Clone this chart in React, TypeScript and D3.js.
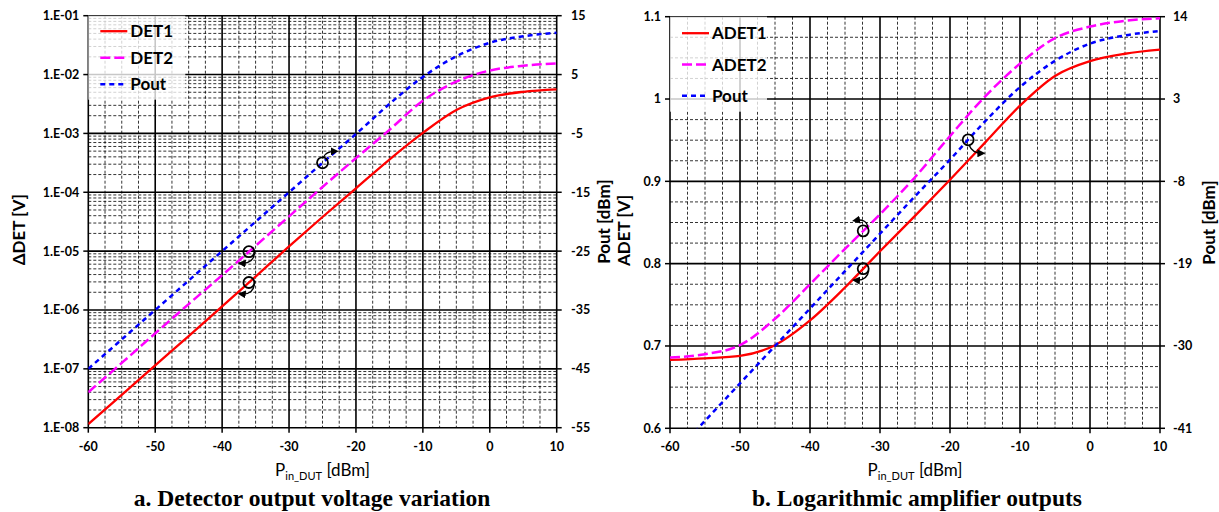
import React from 'react';
import * as d3 from 'd3';

// ---------- data ----------
const PIN = [-60, -55, -50, -45, -40, -35, -30, -25, -20, -15, -10, -5, 0, 5, 10];
const DET1 = [1.15e-8, 3.6e-8, 1.15e-7, 3.6e-7, 1.15e-6, 3.7e-6, 1.2e-5, 3.8e-5, 1.17e-4, 3.6e-4, 1.02e-3, 2.5e-3, 4.1e-3, 5.1e-3, 5.6e-3];
const DET2 = [4.0e-8, 1.26e-7, 4.0e-7, 1.26e-6, 3.9e-6, 1.23e-5, 3.9e-5, 1.23e-4, 3.8e-4, 1.15e-3, 3.6e-3, 7.6e-3, 1.17e-2, 1.41e-2, 1.55e-2];
const POUT = [-45, -40, -35, -30, -25, -20, -15, -10, -5.1, 0, 4.6, 8.1, 10.4, 11.5, 12.1];
const ADET1 = [0.683, 0.685, 0.688, 0.701, 0.731, 0.771, 0.815, 0.858, 0.902, 0.947, 0.992, 1.028, 1.046, 1.055, 1.06];
const ADET2 = [0.686, 0.69, 0.701, 0.733, 0.775, 0.818, 0.86, 0.905, 0.955, 1.003, 1.043, 1.074, 1.088, 1.095, 1.098];

const X_TICKS = [-60, -50, -40, -30, -20, -10, 0, 10];
const A_Y_TICKS = [1e-8, 1e-7, 1e-6, 1e-5, 1e-4, 1e-3, 1e-2, 1e-1];
const A_Y_LABELS = ['1.E-08', '1.E-07', '1.E-06', '1.E-05', '1.E-04', '1.E-03', '1.E-02', '1.E-01'];
const A_Y2_TICKS = [-55, -45, -35, -25, -15, -5, 5, 15];
const B_Y_TICKS = [0.6, 0.7, 0.8, 0.9, 1.0, 1.1];
const B_Y_LABELS = ['0.6', '0.7', '0.8', '0.9', '1', '1.1'];
const B_Y2_TICKS = [-41, -30, -19, -8, 3, 14];

const FONT = "Lato, 'Open Sans', 'DejaVu Sans', sans-serif";
const SERIF = "'Liberation Serif', 'Times New Roman', serif";
const RED = '#ff0000';
const MAG = '#ff00ff';
const BLUE = '#0000ff';

type Ser = { name: string; values: number[]; color: string; dash: string; width: number; axis: 'y' | 'y2' };
type Ann = { series: number; pin: number; kind: 'upRight' | 'downLeft' | 'upLeft' | 'downRight' };

function arrowPath(cx: number, cy: number, r: number, kind: string) {
  switch (kind) {
    case 'upRight':
      return `M${cx + 1},${cy - r} Q${cx + 3},${cy - r - 6} ${cx + 13},${cy - r - 6}`;
    case 'downLeft':
      return `M${cx + r},${cy + 2} Q${cx + 4},${cy + r + 7} ${cx - 8},${cy + r + 6}`;
    case 'upLeft':
      return `M${cx + r - 1},${cy - 3} Q${cx + 4},${cy - r - 7} ${cx - 8},${cy - r - 5}`;
    default:
      return `M${cx + 1},${cy + r} Q${cx + 4},${cy + r + 8} ${cx + 14},${cy + r + 8}`;
  }
}

function Panel(p: {
  id: string;
  left: number; right: number; top: number; bottom: number;
  y: any; y2: any;
  yTicks: number[]; yLabels: string[]; yMinor: number[];
  y2Ticks: number[];
  series: Ser[];
  legend: { w: number; h: number; rowH: number; first: number };
  anns: Ann[];
  yTitle: string; y2Title: string; yTitleX: number; y2TitleX: number; y2LabelX: number;
  caption: string; captionX: number;
}) {
  const x = d3.scaleLinear().domain([-60, 10]).range([p.left, p.right]);
  const minorX = d3.range(-60, 10.01, 2.5).filter((v) => Math.abs(v % 10) > 0.01);
  const line = (s: Ser) => {
    const sc = s.axis === 'y' ? p.y : p.y2;
    return d3
      .line<number>()
      .x((_, i) => x(PIN[i]))
      .y((v) => sc(v))
      .curve(d3.curveMonotoneX)(s.values) as string;
  };
  const posOn = (a: Ann) => {
    const s = p.series[a.series];
    const sc = s.axis === 'y' ? p.y : p.y2;
    const i = Math.min(PIN.length - 2, Math.max(0, d3.bisectRight(PIN, a.pin) - 1));
    const t = (a.pin - PIN[i]) / (PIN[i + 1] - PIN[i]);
    const y0 = sc(s.values[i]);
    const y1 = sc(s.values[i + 1]);
    return [x(a.pin), y0 + (y1 - y0) * t];
  };
  const cx = (p.left + p.right) / 2;
  const cy = (p.top + p.bottom) / 2;
  return (
    <g>
      <defs>
        <clipPath id={`clip-${p.id}`}>
          <rect x={p.left} y={p.top} width={p.right - p.left} height={p.bottom - p.top} />
        </clipPath>
        <marker id={`arr-${p.id}`} viewBox="0 0 10 10" refX="6" refY="5" markerWidth="8" markerHeight="8" markerUnits="userSpaceOnUse" orient="auto">
          <path d="M0,0 L10,5 L0,10 z" fill="#000" />
        </marker>
      </defs>
      {/* minor grid */}
      {minorX.map((v) => (
        <line key={'mx' + v} x1={x(v)} x2={x(v)} y1={p.top} y2={p.bottom} stroke="#000" strokeWidth={0.8} strokeDasharray="3,2" />
      ))}
      {p.yMinor.map((v, i) => (
        <line key={'my' + i} x1={p.left} x2={p.right} y1={p.y(v)} y2={p.y(v)} stroke="#000" strokeWidth={0.8} strokeDasharray="3,2" />
      ))}
      {/* major grid */}
      {X_TICKS.map((v) => (
        <line key={'Mx' + v} x1={x(v)} x2={x(v)} y1={p.top} y2={p.bottom} stroke="#000" strokeWidth={1.6} />
      ))}
      {p.yTicks.map((v) => (
        <line key={'My' + v} x1={p.left} x2={p.right} y1={p.y(v)} y2={p.y(v)} stroke="#000" strokeWidth={1.6} />
      ))}
      {/* tick marks */}
      {X_TICKS.map((v) => (
        <line key={'tx' + v} x1={x(v)} x2={x(v)} y1={p.bottom} y2={p.bottom + 5} stroke="#000" strokeWidth={1.5} />
      ))}
      {p.yTicks.map((v) => (
        <line key={'ty' + v} x1={p.left - 5} x2={p.left} y1={p.y(v)} y2={p.y(v)} stroke="#000" strokeWidth={1.5} />
      ))}
      {p.y2Ticks.map((v) => (
        <line key={'ty2' + v} x1={p.right} x2={p.right + 5} y1={p.y2(v)} y2={p.y2(v)} stroke="#000" strokeWidth={1.5} />
      ))}
      {/* legend box */}
      <rect x={p.left} y={p.top} width={p.legend.w} height={p.legend.h} fill="#fff" fillOpacity={0.78} />
      {/* series */}
      <g clipPath={`url(#clip-${p.id})`}>
        {p.series.map((s) => (
          <path key={s.name} d={line(s)} fill="none" stroke={s.color} strokeWidth={s.width} strokeDasharray={s.dash} />
        ))}
      </g>
      {/* annotations */}
      {p.anns.map((a, i) => {
        const [ax, ay] = posOn(a);
        return (
          <g key={'an' + i}>
            <circle cx={ax} cy={ay} r={5.5} fill="none" stroke="#000" strokeWidth={1.8} />
            <path d={arrowPath(ax, ay, 5.5, a.kind)} fill="none" stroke="#000" strokeWidth={1.4} markerEnd={`url(#arr-${p.id})`} />
          </g>
        );
      })}
      {/* legend entries */}
      {p.series.map((s, i) => {
        const ly = p.top + p.legend.first + i * p.legend.rowH;
        return (
          <g key={'lg' + s.name}>
            <line x1={p.left + 12} x2={p.left + 39} y1={ly} y2={ly} stroke={s.color} strokeWidth={s.width} strokeDasharray={s.dash} />
            <text x={p.left + 42} y={ly} dy="0.36em" fontFamily={FONT} fontWeight={700} fontSize={17}>{s.name}</text>
          </g>
        );
      })}
      {/* tick labels */}
      {X_TICKS.map((v) => (
        <text key={'lx' + v} x={x(v)} y={p.bottom + 23} textAnchor="middle" fontFamily={FONT} fontWeight={700} fontSize={12.5}>{v}</text>
      ))}
      {p.yTicks.map((v, i) => (
        <text key={'ly' + v} x={p.left - 9} y={p.y(v)} dy="0.35em" textAnchor="end" fontFamily={FONT} fontWeight={700} fontSize={12.5}>{p.yLabels[i]}</text>
      ))}
      {p.y2Ticks.map((v) => (
        <text key={'ly2' + v} x={p.y2LabelX} y={p.y2(v)} dy="0.35em" textAnchor="start" fontFamily={FONT} fontWeight={700} fontSize={12.5}>{v}</text>
      ))}
      {/* titles */}
      <text x={cx} y={p.bottom + 48} textAnchor="middle" fontFamily={FONT} fontSize={17}>
        P<tspan fontSize={11} dy="4">in_DUT</tspan><tspan dy="-4"> [dBm]</tspan>
      </text>
      <text transform={`translate(${p.yTitleX},${cy + 8}) rotate(-90)`} textAnchor="middle" dy="0.35em" fontFamily={FONT} fontWeight={700} fontSize={17}>{p.yTitle}</text>
      <text transform={`translate(${p.y2TitleX},${cy}) rotate(-90)`} textAnchor="middle" dy="0.35em" fontFamily={FONT} fontWeight={700} fontSize={17}>{p.y2Title}</text>
      <text x={p.captionX} y={506} textAnchor="middle" fontFamily={SERIF} fontWeight={700} fontSize={23.5}>{p.caption}</text>
    </g>
  );
}

export default function App() {
  const aTop = 15.7, aBottom = 427.7;
  const aY = d3.scaleLog().domain([1e-8, 1e-1]).range([aBottom, aTop]);
  const aY2 = d3.scaleLinear().domain([-55, 15]).range([aBottom, aTop]);
  const aMinor: number[] = [];
  for (let e = -8; e < -1; e++) for (let k = 2; k <= 9; k++) aMinor.push(k * Math.pow(10, e));

  const bTop = 16.7, bBottom = 428.3;
  const bY = d3.scaleLinear().domain([0.6, 1.1]).range([bBottom, bTop]);
  const bY2 = d3.scaleLinear().domain([-41, 14]).range([bBottom, bTop]);
  const bMinor: number[] = d3.range(0.6, 1.1001, 0.025).filter((v) => Math.abs((v * 40) % 4) > 0.01 && Math.abs((v * 40) % 4) < 3.99);

  const aSeries: Ser[] = [
    { name: 'DET1', values: DET1, color: RED, dash: '', width: 2.3, axis: 'y' },
    { name: 'DET2', values: DET2, color: MAG, dash: '10,4', width: 2.5, axis: 'y' },
    { name: 'Pout', values: POUT, color: BLUE, dash: '5,4', width: 2.5, axis: 'y2' },
  ];
  const bSeries: Ser[] = [
    { name: 'ADET1', values: ADET1, color: RED, dash: '', width: 2.3, axis: 'y' },
    { name: 'ADET2', values: ADET2, color: MAG, dash: '10,4', width: 2.5, axis: 'y' },
    { name: 'Pout', values: POUT, color: BLUE, dash: '5,4', width: 2.5, axis: 'y2' },
  ];

  return (
    <svg width={1219} height={512} style={{ position: 'absolute', left: 0, top: 0, background: '#fff' }}>
      <rect x={0} y={0} width={1219} height={512} fill="#fff" />
      <Panel
        id="a"
        left={88.3} right={556.7} top={aTop} bottom={aBottom}
        y={aY} y2={aY2}
        yTicks={A_Y_TICKS} yLabels={A_Y_LABELS} yMinor={aMinor}
        y2Ticks={A_Y2_TICKS}
        series={aSeries}
        legend={{ w: 97, h: 84, rowH: 26.5, first: 15.5 }}
        anns={[
          { series: 2, pin: -25, kind: 'upRight' },
          { series: 1, pin: -36, kind: 'downLeft' },
          { series: 0, pin: -36, kind: 'downLeft' },
        ]}
        yTitle="ΔDET [V]" y2Title="Pout [dBm]" yTitleX={19} y2TitleX={604} y2LabelX={571}
        caption="a. Detector output voltage variation" captionX={312}
      />
      <Panel
        id="b"
        left={670} right={1160} top={bTop} bottom={bBottom}
        y={bY} y2={bY2}
        yTicks={B_Y_TICKS} yLabels={B_Y_LABELS} yMinor={bMinor}
        y2Ticks={B_Y2_TICKS}
        series={bSeries}
        legend={{ w: 97, h: 95, rowH: 31.3, first: 16.5 }}
        anns={[
          { series: 1, pin: -32.4, kind: 'upLeft' },
          { series: 0, pin: -32.4, kind: 'downLeft' },
          { series: 2, pin: -17.4, kind: 'downRight' },
        ]}
        yTitle="ADET [V]" y2Title="Pout [dBm]" yTitleX={624} y2TitleX={1209} y2LabelX={1173}
        caption="b. Logarithmic amplifier outputs" captionX={917}
      />
    </svg>
  );
}
